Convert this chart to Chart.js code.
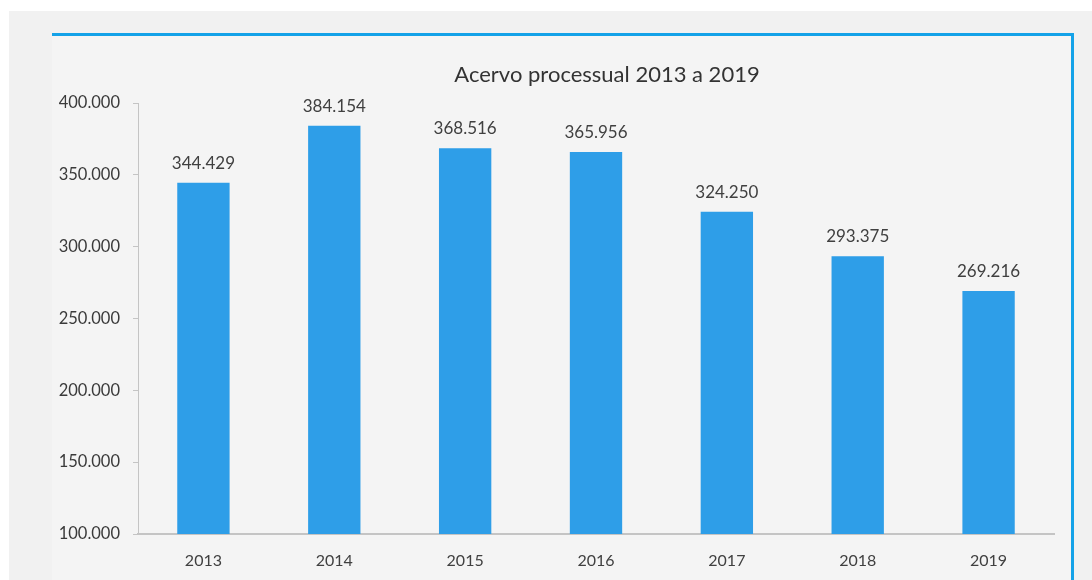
<!DOCTYPE html>
<html>
<head>
<meta charset="utf-8">
<script src="https://cdn.jsdelivr.net/npm/chart.js@4.4.0/dist/chart.umd.min.js"></script>
<style>
  html, body { margin: 0; padding: 0; background: #ffffff; }
  #fundo { position: absolute; left: 9px; top: 11px; width: 1083px; height: 569px; background: #f1f1f1; }
  #painel { position: absolute; left: 52px; top: 33px; width: 1019px; height: 560px;
            background: #f4f4f4; border-top: 3px solid #14a2e8; border-right: 3px solid #14a2e8; }
  #grafico { position: absolute; left: 52px; top: 36px; width: 1018px; height: 544px; }
</style>
</head>
<body>
<div id="fundo"></div>
<div id="painel"></div>
<div id="grafico"><canvas id="acervoChart"></canvas></div>
<script>
var anos = ['2013', '2014', '2015', '2016', '2017', '2018', '2019'];
var acervo = [344429, 384154, 368516, 365956, 324250, 293375, 269216];
var tituloTexto = 'Acervo processual 2013 a 2019';

function milhar(v) {
    return String(Math.round(v)).replace(/\B(?=(\d{3})+(?!\d))/g, '.');
}

// titulo e rotulos das barras desenhados direto no canvas
var rotulos = {
    id: 'rotulos',
    afterDatasetsDraw: function(chart) {
        var ctx = chart.ctx;
        var meta = chart.getDatasetMeta(0);
        ctx.save();
        ctx.font = '17px Lato';
        ctx.fillStyle = '#404040';
        ctx.textAlign = 'center';
        ctx.textBaseline = 'alphabetic';
        meta.data.forEach(function(bar, i) {
            ctx.fillText(milhar(acervo[i]), bar.x, bar.y - 14);
        });
        ctx.font = '22px Lato';
        ctx.fillStyle = '#333333';
        ctx.textBaseline = 'middle';
        var area = chart.chartArea;
        ctx.fillText(tituloTexto, (area.left + area.right) / 2 + 11, 39);
        ctx.restore();
    }
};

var ctx = document.getElementById('acervoChart').getContext('2d');
var myChart = new Chart(ctx, {
    type: 'bar',
    data: {
        labels: anos,
        datasets: [{
            label: 'Acervo',
            data: acervo,
            backgroundColor: '#2e9ee8',
            barPercentage: 0.4,
            categoryPercentage: 1
        }]
    },
    options: {
        responsive: true,
        maintainAspectRatio: false,
        animation: false,
        layout: {
            padding: { top: 67, right: 16, bottom: 0, left: 0 }
        },
        plugins: {
            legend: { display: false },
            title: { display: false },
            tooltip: { enabled: false }
        },
        scales: {
            x: {
                grid: { display: false, drawTicks: false },
                border: { display: true, color: '#c4c4c4', width: 2 },
                ticks: { color: '#404040', font: { family: 'Lato', size: 16 }, padding: 17 },
                afterFit: function(scale) { scale.height = 46; }
            },
            y: {
                min: 100000,
                max: 400000,
                grid: { display: true, drawOnChartArea: false, tickLength: 5, color: '#c4c4c4' },
                border: { display: true, color: '#c4c4c4', width: 1 },
                ticks: {
                    stepSize: 50000,
                    color: '#3a3a3a',
                    font: { family: 'Lato', size: 16.5 },
                    padding: 13,
                    callback: function(v) { return milhar(v); }
                },
                afterFit: function(scale) { scale.width = 86; }
            }
        }
    },
    plugins: [rotulos]
});
</script>
</body>
</html>
